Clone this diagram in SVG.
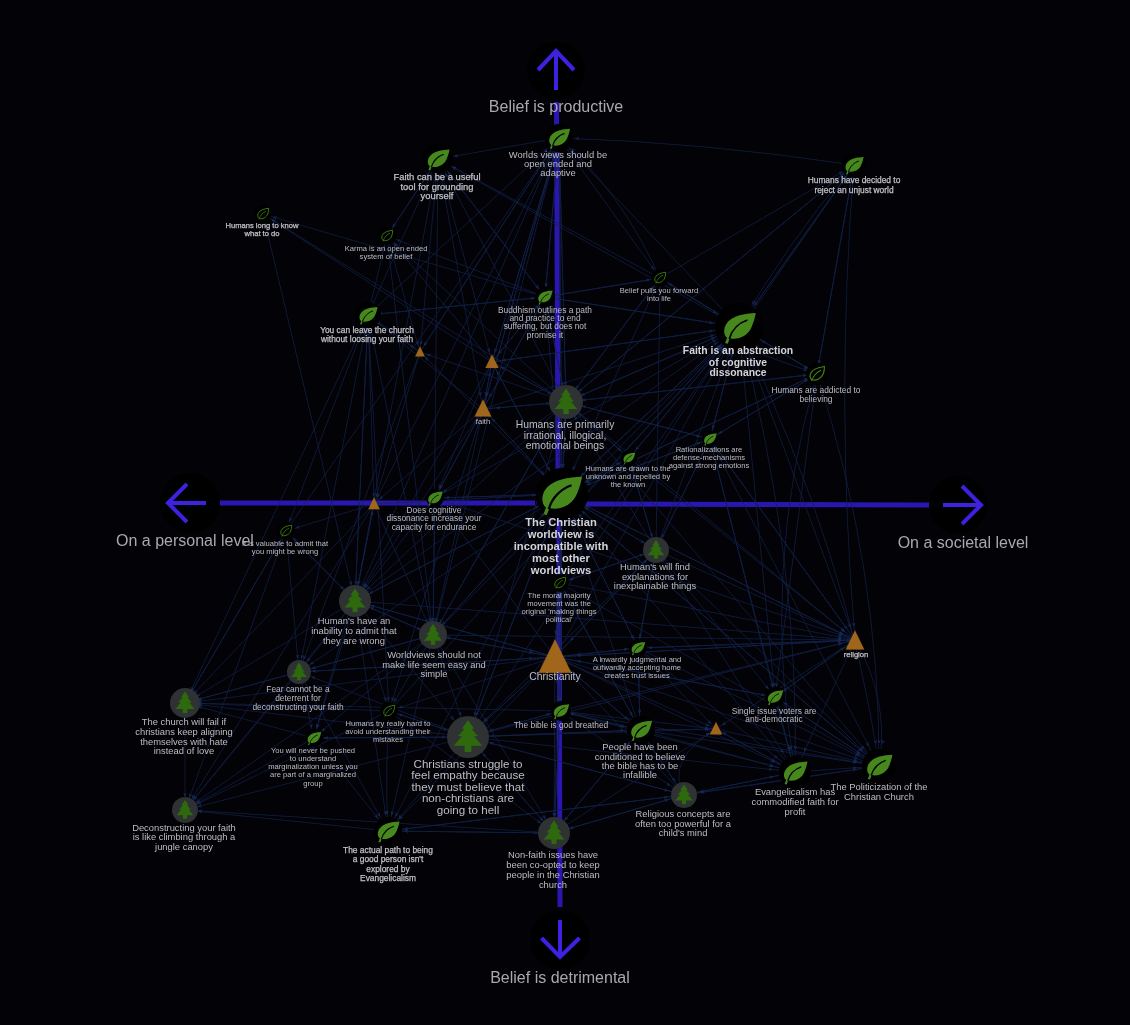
<svg xmlns="http://www.w3.org/2000/svg" width="1130" height="1025" viewBox="0 0 1130 1025">
<style>
text{font-family:"Liberation Sans",Arial,sans-serif;fill:#bdbdc2;text-anchor:middle}
.f7{font-size:7.6px}.f8{font-size:8.4px}.f9{font-size:9.4px}.f10{font-size:10.4px}.f11{font-size:11.6px}.f16{font-size:16px;fill:#a9a9ad}
.b{stroke:#c8c8cc;stroke-width:.25}.w{fill:#d4d4d8;font-weight:bold}.h{font-size:11.2px}
.d{fill:#010103}.td{fill:#2e3033}.lf{fill:#47881f}.vn{fill:none;stroke:#000;stroke-width:5}.hl{fill:#000;stroke:#3f8012;stroke-width:7}.tr{fill:#2f6a10}.tri{fill:#a0661b}
.ax{fill:none;stroke:#2a16b0;stroke-width:5}.ar{fill:none;stroke:#3d20e2;stroke-width:4}
#edges path{fill:none;stroke:#14224a;stroke-width:.7}
marker path{fill:none;stroke:#1b2e60;stroke-width:.7}
.r8{marker-end:url(#r8)}.r11{marker-end:url(#r11)}.r14{marker-end:url(#r14)}.r17{marker-end:url(#r17)}.r23{marker-end:url(#r23)}.r27{marker-end:url(#r27)}
</style>
<defs>
<filter id="soft" filterUnits="userSpaceOnUse" x="0" y="0" width="1130" height="1025"><feGaussianBlur stdDeviation="0.35"/></filter>
<marker id="r8" markerUnits="userSpaceOnUse" markerWidth="6" markerHeight="6" refX="8" refY="0" orient="auto" overflow="visible"><path d="M-3-1.200L0 0L-3 1.200"/></marker>
<marker id="r11" markerUnits="userSpaceOnUse" markerWidth="6" markerHeight="6" refX="11" refY="0" orient="auto" overflow="visible"><path d="M-3-1.200L0 0L-3 1.200"/></marker>
<marker id="r14" markerUnits="userSpaceOnUse" markerWidth="6" markerHeight="6" refX="14" refY="0" orient="auto" overflow="visible"><path d="M-3-1.200L0 0L-3 1.200"/></marker>
<marker id="r17" markerUnits="userSpaceOnUse" markerWidth="6" markerHeight="6" refX="17" refY="0" orient="auto" overflow="visible"><path d="M-3-1.200L0 0L-3 1.200"/></marker>
<marker id="r23" markerUnits="userSpaceOnUse" markerWidth="6" markerHeight="6" refX="23" refY="0" orient="auto" overflow="visible"><path d="M-3-1.200L0 0L-3 1.200"/></marker>
<marker id="r27" markerUnits="userSpaceOnUse" markerWidth="6" markerHeight="6" refX="27" refY="0" orient="auto" overflow="visible"><path d="M-3-1.200L0 0L-3 1.200"/></marker>
<g id="leaf"><path class="lf" d="M48-40C18-38-22-34-38-6C-46 10-42 26-34 30C-36 36-38 42-40 46L-32 48C-30 42-28 36-26 32C-4 38 26 26 36 0C42-14 46-28 48-40Z"/><path class="vn" d="M-28 34C-20 8 0-12 24-20"/></g>
<g id="hleaf"><path class="hl" d="M44-44C16-40-22-34-36-6C-44 10-40 26-30 34C-4 42 26 26 36 0C42-14 44-30 44-44Z"/><path fill="none" stroke="#3f8012" stroke-width="6" d="M-32 42C-20 8 0-12 24-22"/></g>
<g id="tree"><path class="tr" d="M0-50L18-24H10L30-2H18L42 26H10V44H-10V26H-42L-18-2H-30L-10-24H-18Z"/></g>
<path id="tg" class="tri" stroke="#a0661b" stroke-width="2" stroke-dasharray="3 3" d="M0-50L44 40H-44Z"/>
</defs>
<rect width="1130" height="1025" fill="#020207"/>
<g filter="url(#soft)">
<g id="axes">
<path class="ax" d="M556.500 102L558 470M559 520L560 907M218 503H535M585 504L932 505"/>
</g>
<g id="edges">
<g class="r27">
<path d="M660 278L739 327"/><path d="M854 165L739 327"/><path d="M845 175Q790 240 739 327"/><path d="M817 374L739 327"/><path d="M566 402L739 327"/><path d="M562 494L739 327"/><path d="M575 505L739 327"/><path d="M629 458L739 327"/><path d="M710 439L739 327"/><path d="M555 657L739 327"/><path d="M656 550L739 327"/><path d="M433 635L739 327"/><path d="M483 409L739 327"/><path d="M492 362L739 327"/><path d="M545 297L739 327"/><path d="M435 498L739 327"/><path d="M468 737L739 327"/><path d="M355 601L739 327"/><path d="M389 711L739 327"/><path d="M560 583L739 327"/>
<path d="M566 402L562 494"/><path d="M629 458L562 494"/><path d="M710 439L562 494"/><path d="M739 327L562 494"/><path d="M656 550L562 494"/><path d="M555 657L562 494"/><path d="M435 498L562 494"/><path d="M483 409L562 494"/><path d="M492 362L562 494"/><path d="M433 635L562 494"/><path d="M355 601L562 494"/><path d="M560 711L562 494"/><path d="M468 737L562 494"/><path d="M855 640L562 494"/><path d="M559 138L562 494"/><path d="M640 730L562 494"/><path d="M638 648L562 494"/><path d="M545 297L562 494"/><path d="M660 278L562 494"/>
<path d="M817 374L562 494"/><path d="M795 772L562 494"/><path d="M879 766L562 494"/>
</g>
<g class="r23">
<path d="M855 640Q890 700 879 766"/><path d="M775 697L879 766"/><path d="M716 729L879 766"/><path d="M640 730L879 766"/><path d="M555 657L879 766"/><path d="M562 494L879 766"/><path d="M656 550L879 766"/><path d="M638 648L879 766"/><path d="M710 439L879 766"/><path d="M739 327Q850 560 879 766"/><path d="M817 374Q880 570 879 766"/><path d="M795 772L879 766"/><path d="M684 795L879 766"/><path d="M560 711L879 766"/><path d="M566 402L879 766"/><path d="M560 583L879 766"/>
<path d="M716 729L795 772"/><path d="M640 730L795 772"/><path d="M775 697L795 772"/><path d="M684 795L795 772"/><path d="M555 657L795 772"/><path d="M638 648L795 772"/><path d="M560 711L795 772"/><path d="M656 550L795 772"/><path d="M855 640L795 772"/><path d="M739 327Q800 560 795 772"/><path d="M817 374Q760 570 795 772"/><path d="M468 737L795 772"/><path d="M710 439L795 772"/>
<path d="M433 635L468 737"/><path d="M555 657L468 737"/><path d="M562 494L468 737"/><path d="M389 711L468 737"/><path d="M560 711L468 737"/><path d="M355 601L468 737"/><path d="M640 730L468 737"/><path d="M554 833L468 737"/><path d="M314 738L468 737"/><path d="M684 795L468 737"/><path d="M656 550L468 737"/><path d="M566 402L468 737"/>
<path d="M562 494L555 657"/><path d="M560 583L555 657"/><path d="M433 635L555 657"/><path d="M468 737L555 657"/><path d="M638 648L555 657"/><path d="M855 640L555 657"/><path d="M640 730L555 657"/><path d="M656 550L555 657"/><path d="M355 601L555 657"/><path d="M560 711L555 657"/><path d="M775 697L555 657"/><path d="M684 795L555 657"/><path d="M299 672L555 657"/>
</g>
<g class="r17">
<path d="M562 494L566 402"/><path d="M629 458L566 402"/><path d="M710 439L566 402"/><path d="M739 327L566 402"/><path d="M545 297L566 402"/><path d="M660 278L566 402"/><path d="M559 138L566 402"/><path d="M483 409L566 402"/><path d="M492 362L566 402"/><path d="M656 550L566 402"/><path d="M854 165L566 402"/><path d="M817 374L566 402"/><path d="M433 635L566 402"/>
<path d="M286 531L355 601"/><path d="M374 504L355 601"/><path d="M562 494L355 601"/><path d="M435 498L355 601"/><path d="M566 402L355 601"/><path d="M483 409L355 601"/><path d="M433 635L355 601"/><path d="M438 159L355 601"/><path d="M368 315L355 601"/><path d="M263 214L355 601"/><path d="M492 362L355 601"/><path d="M555 657L355 601"/>
<path d="M560 711L640 730"/><path d="M555 657L640 730"/><path d="M554 833L640 730"/><path d="M468 737L640 730"/><path d="M684 795L640 730"/><path d="M638 648L640 730"/><path d="M560 583L640 730"/>
<path d="M554 833L684 795"/><path d="M468 737L684 795"/><path d="M640 730L684 795"/><path d="M879 766L684 795"/><path d="M388 831L684 795"/><path d="M560 711L684 795"/><path d="M795 772L684 795"/>
<path d="M468 737L554 833"/><path d="M560 711L554 833"/><path d="M555 657L554 833"/><path d="M640 730L554 833"/><path d="M388 831L554 833"/><path d="M389 711L554 833"/><path d="M433 635L554 833"/><path d="M562 494L554 833"/><path d="M684 795L554 833"/>
<path d="M468 737L388 831"/><path d="M554 833L388 831"/><path d="M389 711Q385 770 388 831"/><path d="M314 738L388 831"/><path d="M299 672L388 831"/><path d="M433 635L388 831"/><path d="M555 657L388 831"/><path d="M684 795L388 831"/><path d="M355 601L388 831"/><path d="M562 494L388 831"/>
<path d="M559 138L438 159"/><path d="M739 327L438 159"/><path d="M660 278L438 159"/><path d="M387 236L438 159"/><path d="M545 297L438 159"/><path d="M566 402L438 159"/>
<path d="M854 165Q700 142 559 138"/><path d="M545 297L559 138"/><path d="M566 402L559 138"/><path d="M562 494L559 138"/><path d="M492 362L559 138"/><path d="M420 352L559 138"/><path d="M660 278Q620 190 559 138"/><path d="M355 601L559 138"/><path d="M483 409L559 138"/><path d="M286 531L559 138"/><path d="M368 315L559 138"/><path d="M739 327L559 138"/><path d="M433 635L559 138"/>
</g>
<g class="r14">
<path d="M562 494L855 640"/><path d="M566 402L855 640"/><path d="M656 550L855 640"/><path d="M629 458L855 640"/><path d="M710 439L855 640"/><path d="M555 657L855 640"/><path d="M638 648L855 640"/><path d="M435 498L855 640"/><path d="M854 165Q835 400 855 640"/><path d="M739 327L855 640"/><path d="M433 635L855 640"/><path d="M468 737L855 640"/><path d="M775 697L855 640"/><path d="M560 583L855 640"/><path d="M560 711L855 640"/><path d="M355 601L855 640"/>
<path d="M185 703L185 810"/><path d="M299 672L185 810"/><path d="M355 601L185 810"/><path d="M433 635L185 810"/><path d="M314 738L185 810"/><path d="M468 737L185 810"/><path d="M388 831L185 810"/><path d="M554 833L185 810"/><path d="M286 531L185 810"/><path d="M389 711L185 810"/><path d="M374 504L185 810"/>
<path d="M299 672L185 703"/><path d="M355 601L185 703"/><path d="M389 711L185 703"/><path d="M433 635L185 703"/><path d="M468 737L185 703"/><path d="M314 738L185 703"/><path d="M555 657L185 703"/><path d="M286 531L185 703"/><path d="M560 711L185 703"/><path d="M374 504L185 703"/><path d="M368 315L185 703"/>
<path d="M355 601L299 672"/><path d="M433 635L299 672"/><path d="M468 737L299 672"/><path d="M555 657L299 672"/><path d="M368 315L299 672"/><path d="M286 531L299 672"/><path d="M562 494L299 672"/><path d="M420 352L299 672"/>
<path d="M355 601L433 635"/><path d="M562 494L433 635"/><path d="M435 498L433 635"/><path d="M374 504L433 635"/><path d="M483 409L433 635"/><path d="M566 402L433 635"/><path d="M438 159L433 635"/><path d="M555 657L433 635"/><path d="M368 315L433 635"/><path d="M387 236L433 635"/>
<path d="M562 494L656 550"/><path d="M629 458L656 550"/><path d="M710 439L656 550"/><path d="M555 657L656 550"/><path d="M560 583L656 550"/><path d="M638 648L656 550"/>
<path d="M492 362L483 409"/><path d="M566 402L483 409"/><path d="M545 297L483 409"/><path d="M562 494L483 409"/><path d="M438 159L483 409"/><path d="M559 138L483 409"/><path d="M435 498L483 409"/>
<path d="M739 327L854 165"/><path d="M817 374L854 165"/><path d="M660 278L854 165"/><path d="M566 402L854 165"/><path d="M750 315L854 165"/>
</g>
<g class="r11">
<path d="M355 601L389 711"/><path d="M433 635L389 711"/><path d="M468 737L389 711"/><path d="M555 657L389 711"/><path d="M368 315L389 711"/><path d="M483 409L389 711"/>
<path d="M355 601L314 738"/><path d="M433 635L314 738"/><path d="M299 672L314 738"/><path d="M468 737L314 738"/><path d="M352 601L314 738"/>
<path d="M566 402L435 498"/><path d="M562 494L435 498"/><path d="M483 409L435 498"/><path d="M492 362L435 498"/><path d="M555 657L435 498"/>
<path d="M355 601L286 531"/><path d="M368 315L286 531"/><path d="M374 504L286 531"/><path d="M185 703L286 531"/>
<path d="M483 409L492 362"/><path d="M545 297L492 362"/><path d="M566 402L492 362"/><path d="M562 494L492 362"/><path d="M559 138L492 362"/><path d="M438 159L492 362"/><path d="M739 327L492 362"/>
<path d="M545 297L263 214"/><path d="M492 362L263 214"/><path d="M566 402L263 214"/>
<path d="M492 362L387 236"/><path d="M566 402L387 236"/><path d="M545 297L387 236"/><path d="M438 159L387 236"/><path d="M368 315L387 236"/>
<path d="M739 327L660 278"/><path d="M559 138L660 278"/><path d="M545 297L660 278"/><path d="M566 402L660 278"/><path d="M656 550L660 278"/>
<path d="M566 402L545 297"/><path d="M559 138L545 297"/><path d="M492 362L545 297"/><path d="M483 409L545 297"/><path d="M660 278L545 297"/><path d="M438 159L545 297"/><path d="M368 315L545 297"/><path d="M739 327L545 297"/>
<path d="M545 297L368 315"/><path d="M483 409L368 315"/><path d="M438 159L368 315"/><path d="M420 352L368 315"/><path d="M355 601L368 315"/>
<path d="M739 327L817 374"/><path d="M735 345L817 374"/><path d="M566 402L817 374"/><path d="M710 439L817 374"/><path d="M854 165L817 374"/><path d="M562 494L817 374"/><path d="M660 278L817 374"/>
<path d="M739 327L710 439"/><path d="M817 374L710 439"/><path d="M562 494L710 439"/><path d="M566 402L710 439"/><path d="M656 550L710 439"/><path d="M855 640L710 439"/>
<path d="M562 494L629 458"/><path d="M566 402L629 458"/><path d="M739 327L629 458"/><path d="M656 550L629 458"/>
<path d="M555 657L560 583"/><path d="M562 494L560 583"/><path d="M656 550L560 583"/><path d="M640 730L560 583"/>
<path d="M555 657L638 648"/><path d="M562 494L638 648"/><path d="M855 640L638 648"/><path d="M640 730L638 648"/><path d="M656 550L638 648"/>
<path d="M555 657L560 711"/><path d="M468 737L560 711"/><path d="M640 730L560 711"/><path d="M554 833L560 711"/><path d="M560 583L560 711"/><path d="M562 494L560 711"/>
<path d="M739 327L775 697"/><path d="M817 374L775 697"/><path d="M855 640L775 697"/><path d="M879 766L775 697"/><path d="M795 772L775 697"/><path d="M656 550L775 697"/><path d="M555 657L775 697"/><path d="M710 439L775 697"/>
</g>
<g class="r8">
<path d="M684 795Q665 760 716 729"/><path d="M640 730L716 729"/><path d="M638 648L716 729"/><path d="M555 657L716 729"/><path d="M560 711L716 729"/><path d="M554 833L716 729"/><path d="M468 737L716 729"/><path d="M855 640L716 729"/><path d="M795 772L716 729"/>
<path d="M483 409L374 504"/><path d="M368 315L374 504"/><path d="M420 352L374 504"/><path d="M562 494L374 504"/><path d="M559 138L374 504"/><path d="M355 601L374 504"/>
<path d="M566 402L420 352"/><path d="M438 159L420 352"/><path d="M559 138L420 352"/><path d="M368 315L420 352"/><path d="M562 494L420 352"/><path d="M387 236L420 352"/>
</g>
</g>
<g id="a-top"><circle class="d" cx="556" cy="70" r="29"/><path class="ar" d="M556 90V52M538 70L556 51L574 70"/><text class="f16" x="556" y="112">Belief is productive</text></g>
<g id="a-bottom"><circle class="d" cx="560" cy="940" r="30"/><path class="ar" d="M560 920V957M541.500 938L560 957L579.500 938"/><text class="f16" x="560" y="983">Belief is detrimental</text></g>
<g id="a-left"><circle class="d" cx="190" cy="503" r="30"/><path class="ar" d="M206 503H168M187 484L168 503L187 522"/><text class="f16" x="185" y="546">On a personal level</text></g>
<g id="a-right"><circle class="d" cx="958" cy="505" r="29"/><path class="ar" d="M943 505H981M962 486L981 505L962 524"/><text class="f16" x="963" y="548">On a societal level</text></g>
<g id="n-worlds"><circle class="d" cx="559" cy="138" r="14"/><use href="#leaf" transform="translate(559 138) scale(.23)"/><text class="f9"><tspan x="558" y="158">Worlds views should be</tspan><tspan x="558" y="167">open ended and</tspan><tspan x="558" y="176">adaptive</tspan></text></g>
<g id="n-useful"><circle class="d" cx="438" cy="159" r="15"/><use href="#leaf" transform="translate(438 159) scale(.24)"/><text class="f9 b"><tspan x="437" y="180">Faith can be a useful</tspan><tspan x="437" y="190">tool for grounding</tspan><tspan x="437" y="199">yourself</tspan></text></g>
<g id="n-decided"><circle class="d" cx="854" cy="165" r="12"/><use href="#leaf" transform="translate(854 165) scale(.2)"/><text class="f8 b"><tspan x="854" y="183">Humans have decided to</tspan><tspan x="854" y="193">reject an unjust world</tspan></text></g>
<g id="n-long"><circle class="d" cx="263" cy="214" r="9"/><use href="#hleaf" transform="translate(263 214) scale(.13)"/><text class="f7 b"><tspan x="262" y="228">Humans long to know</tspan><tspan x="262" y="236">what to do</tspan></text></g>
<g id="n-karma"><circle class="d" cx="387" cy="236" r="9"/><use href="#hleaf" transform="translate(387 236) scale(.13)"/><text class="f7"><tspan x="386" y="251">Karma is an open ended</tspan><tspan x="386" y="259">system of belief</tspan></text></g>
<g id="n-pulls"><circle class="d" cx="660" cy="278" r="9"/><use href="#hleaf" transform="translate(660 278) scale(.13)"/><text class="f7"><tspan x="659" y="293">Belief pulls you forward</tspan><tspan x="659" y="301">into life</tspan></text></g>
<g id="n-buddhism"><circle class="d" cx="545" cy="297" r="10"/><use href="#leaf" transform="translate(545 297) scale(.16)"/><text class="f8"><tspan x="545" y="313">Buddhism outlines a path</tspan><tspan x="545" y="321">and practice to end</tspan><tspan x="545" y="329">suffering, but does not</tspan><tspan x="545" y="338">promise it</tspan></text></g>
<g id="n-leave"><circle class="d" cx="368" cy="315" r="13"/><use href="#leaf" transform="translate(368 315) scale(.2)"/><text class="f8 b"><tspan x="367" y="333">You can leave the church</tspan><tspan x="367" y="342">without loosing your faith</tspan></text></g>
<g id="n-tri1"><use href="#tg" transform="translate(420 352) scale(.11)"/></g>
<g id="n-tri2"><use href="#tg" transform="translate(492 362) scale(.15)"/></g>
<g id="n-faith"><use href="#tg" transform="translate(483 409) scale(.19)"/><text class="f7" x="483" y="424">faith</text></g>
<g id="n-abstraction"><circle class="d" cx="739" cy="327" r="24"/><use href="#leaf" transform="translate(739 327) scale(.35)"/><text class="f10 w"><tspan x="738" y="354">Faith is an abstraction</tspan><tspan x="738" y="366">of cognitive</tspan><tspan x="738" y="376">dissonance</tspan></text></g>
<g id="n-addicted"><circle class="d" cx="817" cy="374" r="11"/><use href="#hleaf" transform="translate(817 374) scale(.17)"/><text class="f8"><tspan x="816" y="393">Humans are addicted to</tspan><tspan x="816" y="402">believing</tspan></text></g>
<g id="n-primarily"><circle class="td" cx="566" cy="402" r="17"/><use href="#tree" transform="translate(566 402) scale(.27)"/><text class="f10"><tspan x="565" y="428">Humans are primarily</tspan><tspan x="565" y="438.500">irrational, illogical,</tspan><tspan x="565" y="448.500">emotional beings</tspan></text></g>
<g id="n-rational"><circle class="d" cx="710" cy="439" r="8"/><use href="#leaf" transform="translate(710 439) scale(.14)"/><text class="f7"><tspan x="709" y="452">Rationalizations are</tspan><tspan x="709" y="460">defense-mechanisms</tspan><tspan x="709" y="468">against strong emotions</tspan></text></g>
<g id="n-drawn"><circle class="d" cx="629" cy="458" r="8"/><use href="#leaf" transform="translate(629 458) scale(.13)"/><text class="f7"><tspan x="628" y="471">Humans are drawn to the</tspan><tspan x="628" y="479">unknown and repelled by</tspan><tspan x="628" y="487">the known</tspan></text></g>
<g id="n-hub"><circle class="d" cx="562" cy="494" r="26"/><use href="#leaf" transform="translate(561 494) scale(.44)"/><text class="h w"><tspan x="561" y="526">The Christian</tspan><tspan x="561" y="538">worldview is</tspan><tspan x="561" y="550">incompatible with</tspan><tspan x="561" y="562">most other</tspan><tspan x="561" y="574">worldviews</tspan></text></g>
<g id="n-tri3"><use href="#tg" transform="translate(374 504) scale(.13)"/></g>
<g id="n-does"><circle class="d" cx="435" cy="498" r="9"/><use href="#leaf" transform="translate(435 498) scale(.16)"/><text class="f8"><tspan x="434" y="513">Does cognitive</tspan><tspan x="434" y="521">dissonance increase your</tspan><tspan x="434" y="530">capacity for endurance</tspan></text></g>
<g id="n-valuable"><circle class="d" cx="286" cy="531" r="9"/><use href="#hleaf" transform="translate(286 531) scale(.13)"/><text class="f7"><tspan x="285" y="546">It is valuable to admit that</tspan><tspan x="285" y="554">you might be wrong</tspan></text></g>
<g id="n-explain"><circle class="td" cx="656" cy="550" r="13"/><use href="#tree" transform="translate(656 550) scale(.2)"/><text class="f9"><tspan x="655" y="570">Human's will find</tspan><tspan x="655" y="580">explanations for</tspan><tspan x="655" y="589">inexplainable things</tspan></text></g>
<g id="n-moral"><circle class="d" cx="560" cy="583" r="9"/><use href="#hleaf" transform="translate(560 583) scale(.13)"/><text class="f7"><tspan x="559" y="598">The moral majority</tspan><tspan x="559" y="606">movement was the</tspan><tspan x="559" y="614">original 'making things</tspan><tspan x="559" y="622">political'</tspan></text></g>
<g id="n-inability"><circle class="td" cx="355" cy="601" r="16"/><use href="#tree" transform="translate(355 601) scale(.25)"/><text class="f9"><tspan x="354" y="624">Human's have an</tspan><tspan x="354" y="634">inability to admit that</tspan><tspan x="354" y="644">they are wrong</tspan></text></g>
<g id="n-worldviews"><circle class="td" cx="433" cy="635" r="14"/><use href="#tree" transform="translate(433 635) scale(.22)"/><text class="f9"><tspan x="434" y="658">Worldviews should not</tspan><tspan x="434" y="667.500">make life seem easy and</tspan><tspan x="434" y="677">simple</tspan></text></g>
<g id="n-christianity"><use href="#tg" transform="translate(555 658) scale(.37)"/><text class="f10" x="555" y="680">Christianity</text></g>
<g id="n-inward"><circle class="d" cx="638" cy="648" r="9"/><use href="#leaf" transform="translate(638 648) scale(.15)"/><text class="f7"><tspan x="637" y="662">A inwardly judgmental and</tspan><tspan x="637" y="670">outwardly accepting home</tspan><tspan x="637" y="678">creates trust issues</tspan></text></g>
<g id="n-religion"><use href="#tg" transform="translate(855 641) scale(.21)"/><text class="f7 b" x="856" y="657">religion</text></g>
<g id="n-fear"><circle class="td" cx="299" cy="672" r="12"/><use href="#tree" transform="translate(299 672) scale(.19)"/><text class="f8"><tspan x="298" y="692">Fear cannot be a</tspan><tspan x="298" y="701">deterrent for</tspan><tspan x="298" y="710">deconstructing your faith</tspan></text></g>
<g id="n-church"><circle class="td" cx="185" cy="703" r="15"/><use href="#tree" transform="translate(185 703) scale(.23)"/><text class="f9"><tspan x="184" y="725">The church will fail if</tspan><tspan x="184" y="735">christians keep aligning</tspan><tspan x="184" y="745">themselves with hate</tspan><tspan x="184" y="754">instead of love</tspan></text></g>
<g id="n-try"><circle class="d" cx="389" cy="711" r="9"/><use href="#hleaf" transform="translate(389 711) scale(.13)"/><text class="f7"><tspan x="388" y="726">Humans try really hard to</tspan><tspan x="388" y="734">avoid understanding their</tspan><tspan x="388" y="742">mistakes</tspan></text></g>
<g id="n-never"><circle class="d" cx="314" cy="738" r="9"/><use href="#leaf" transform="translate(314 738) scale(.15)"/><text class="f7"><tspan x="313" y="753">You will never be pushed</tspan><tspan x="313" y="761">to understand</tspan><tspan x="313" y="769">marginalization unless you</tspan><tspan x="313" y="777">are part of a marginalized</tspan><tspan x="313" y="786">group</tspan></text></g>
<g id="n-struggle"><circle class="td" cx="468" cy="737" r="21"/><use href="#tree" transform="translate(468 737) scale(.34)"/><text class="f11"><tspan x="468" y="768">Christians struggle to</tspan><tspan x="468" y="779">feel empathy because</tspan><tspan x="468" y="790.500">they must believe that</tspan><tspan x="468" y="802">non-christians are</tspan><tspan x="468" y="813.500">going to hell</tspan></text></g>
<g id="n-breathed"><circle class="d" cx="561" cy="711" r="10"/><use href="#leaf" transform="translate(561 711) scale(.17)"/><text class="f8" x="561" y="728">The bible is god breathed</text></g>
<g id="n-conditioned"><circle class="d" cx="641" cy="730" r="14"/><use href="#leaf" transform="translate(641 730) scale(.23)"/><text class="f9"><tspan x="640" y="750">People have been</tspan><tspan x="640" y="760">conditioned to believe</tspan><tspan x="640" y="769">the bible has to be</tspan><tspan x="640" y="778">infallible</tspan></text></g>
<g id="n-tri4"><use href="#tg" transform="translate(716 729) scale(.14)"/></g>
<g id="n-single"><circle class="d" cx="775" cy="697" r="10"/><use href="#leaf" transform="translate(775 697) scale(.17)"/><text class="f8"><tspan x="774" y="714">Single issue voters are</tspan><tspan x="774" y="722">anti-democratic</tspan></text></g>
<g id="n-evangelicalism"><circle class="d" cx="795" cy="772" r="16"/><use href="#leaf" transform="translate(795 772) scale(.26)"/><text class="f9"><tspan x="795" y="795">Evangelicalism has</tspan><tspan x="795" y="805">commodified faith for</tspan><tspan x="795" y="815">profit</tspan></text></g>
<g id="n-politicization"><circle class="d" cx="879" cy="766" r="17"/><use href="#leaf" transform="translate(879 766) scale(.28)"/><text class="f9"><tspan x="879" y="790">The Politicization of the</tspan><tspan x="879" y="800">Christian Church</tspan></text></g>
<g id="n-religious"><circle class="td" cx="684" cy="795" r="13"/><use href="#tree" transform="translate(684 795) scale(.21)"/><text class="f9"><tspan x="683" y="817">Religious concepts are</tspan><tspan x="683" y="826.500">often too powerful for a</tspan><tspan x="683" y="836">child's mind</tspan></text></g>
<g id="n-nonfaith"><circle class="td" cx="554" cy="833" r="16"/><use href="#tree" transform="translate(554 833) scale(.25)"/><text class="f9"><tspan x="553" y="858">Non-faith issues have</tspan><tspan x="553" y="868">been co-opted to keep</tspan><tspan x="553" y="878">people in the Christian</tspan><tspan x="553" y="888">church</tspan></text></g>
<g id="n-actual"><circle class="d" cx="388" cy="831" r="14"/><use href="#leaf" transform="translate(388 831) scale(.24)"/><text class="f8 b"><tspan x="388" y="853">The actual path to being</tspan><tspan x="388" y="862">a good person isn't</tspan><tspan x="388" y="872">explored by</tspan><tspan x="388" y="880.500">Evangelicalism</tspan></text></g>
<g id="n-deconstruct"><circle class="td" cx="185" cy="810" r="13"/><use href="#tree" transform="translate(185 810) scale(.2)"/><text class="f9"><tspan x="184" y="831">Deconstructing your faith</tspan><tspan x="184" y="840">is like climbing through a</tspan><tspan x="184" y="850">jungle canopy</tspan></text></g>
</g>
</svg>
